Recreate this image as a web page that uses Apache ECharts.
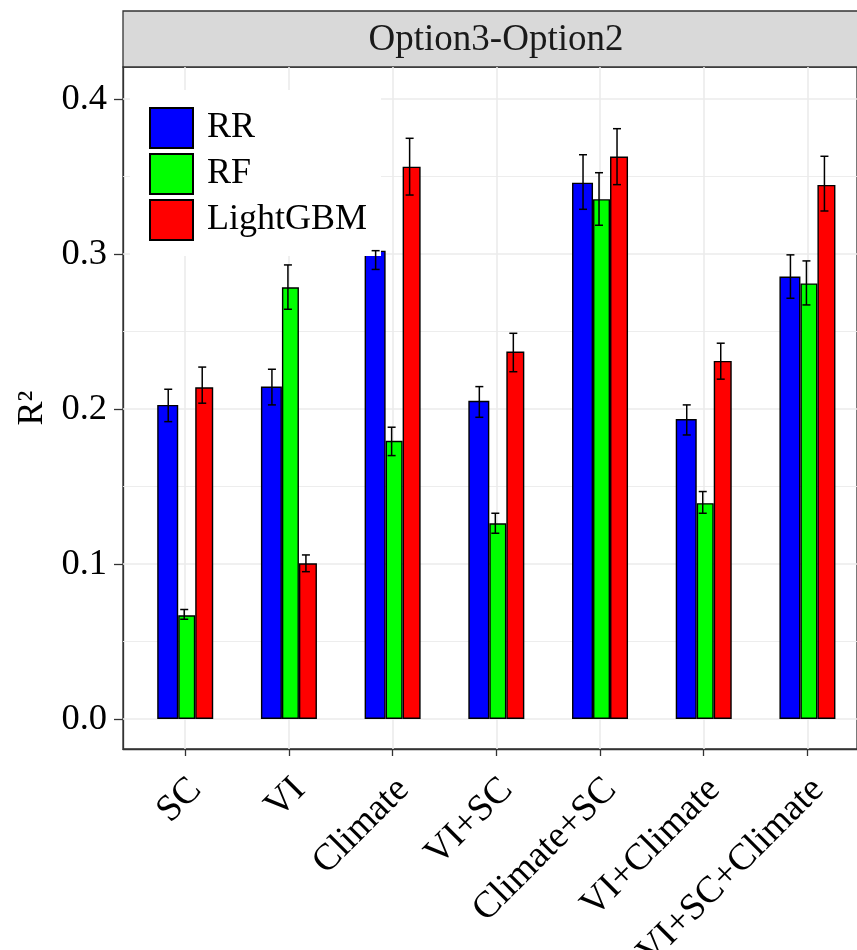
<!DOCTYPE html>
<html>
<head>
<meta charset="UTF-8">
<title>R2 by model</title>
<script src="https://cdn.jsdelivr.net/npm/echarts@6.0.0/dist/echarts.min.js"></script>
<style>
  body { margin: 0; background: #fff; }
  #main { width: 857px; height: 950px; }
</style>
</head>
<body>
<div id="main"></div>
<script type="text/javascript">
// data
var categories = ['SC', 'VI', 'Climate', 'VI+SC', 'Climate+SC', 'VI+Climate', 'VI+SC+Climate'];
var seriesNames = ['RR', 'RF', 'LightGBM'];

var rr   = [0.2026, 0.2144, 0.3021, 0.2052, 0.3460, 0.1935, 0.2854];
var rrLo = [0.1918, 0.2026, 0.2900, 0.1946, 0.3288, 0.1832, 0.2714];
var rrHi = [0.2127, 0.2256, 0.3021, 0.2144, 0.3640, 0.2026, 0.2994];

var rf   = [0.0669, 0.2785, 0.1794, 0.1262, 0.3353, 0.1392, 0.2810];
var rfLo = [0.0643, 0.2643, 0.1699, 0.1198, 0.3185, 0.1327, 0.2671];
var rfHi = [0.0706, 0.2929, 0.1882, 0.1327, 0.3524, 0.1467, 0.2955];

var lgb   = [0.2140, 0.1004, 0.3563, 0.2370, 0.3628, 0.2310, 0.3445];
var lgbLo = [0.2037, 0.0950, 0.3380, 0.2240, 0.3447, 0.2192, 0.3277];
var lgbHi = [0.2270, 0.1058, 0.3746, 0.2488, 0.3808, 0.2424, 0.3630];

var yTicks = [0, 0.1, 0.2, 0.3, 0.4];
var yMinor = [0.05, 0.15, 0.25, 0.35];

var FONT = 'Liberation Serif';
var myChart = echarts.init(document.getElementById('main'));

function pairs(vals) {
  return vals.map(function (v, i) { return [i + 1, v]; });
}
function errData(lo, hi) {
  return lo.map(function (v, i) { return [i + 1, v, hi[i]]; });
}
function errSeries(name, lo, hi, dx) {
  return {
    name: name,
    type: 'custom',
    z: 4,
    silent: true,
    data: errData(lo, hi),
    renderItem: function (params, api) {
      var top = api.coord([api.value(0), api.value(2)]);
      var bot = api.coord([api.value(0), api.value(1)]);
      var x = top[0] + dx, c = 4;
      var st = { stroke: '#000', lineWidth: 1.5 };
      return {
        type: 'group',
        children: [
          { type: 'line', shape: { x1: x, y1: top[1], x2: x, y2: bot[1] }, style: st },
          { type: 'line', shape: { x1: x - c, y1: top[1], x2: x + c, y2: top[1] }, style: st },
          { type: 'line', shape: { x1: x - c, y1: bot[1], x2: x + c, y2: bot[1] }, style: st }
        ]
      };
    }
  };
}
function bar(name, vals, color, w) {
  return {
    name: name,
    type: 'bar',
    z: 3,
    barWidth: w,
    barGap: '0%',
    data: pairs(vals),
    itemStyle: { color: color, borderColor: '#000', borderWidth: 1.4 }
  };
}

var gridLines = [];
yTicks.forEach(function (v) { gridLines.push({ yAxis: v, lineStyle: { width: 1.6 } }); });
yMinor.forEach(function (v) { gridLines.push({ yAxis: v, lineStyle: { width: 0.9 } }); });
categories.forEach(function (c, i) { gridLines.push({ xAxis: i + 1, lineStyle: { width: 1.6 } }); });

myChart.setOption({
  animation: false,
  grid: {
    left: 123, top: 67, bottom: 201, right: 0,
    containLabel: false, outerBoundsMode: 'none',
    show: true, borderColor: '#333', borderWidth: 1.3
  },
  graphic: [
    { type: 'rect', shape: { x: 123, y: 11, width: 760, height: 56 },
      style: { fill: '#d9d9d9', stroke: '#333', lineWidth: 1.3 } },
    { type: 'text', x: 496, y: 40,
      style: { text: 'Option3-Option2', font: '37px "' + FONT + '"', fill: '#1a1a1a',
               textAlign: 'center', textVerticalAlign: 'middle' } }
  ],
  legend: {
    data: seriesNames,
    orient: 'vertical',
    left: 130,
    top: 90,
    padding: [17, 14, 15, 19],
    backgroundColor: '#fff',
    icon: 'rect',
    itemWidth: 43,
    itemHeight: 40,
    itemGap: 4,
    textStyle: { fontFamily: FONT, fontSize: 36, color: '#000', padding: [0, 0, 0, 9] }
  },
  xAxis: {
    type: 'value',
    min: 0.4,
    max: 7.478,   // panel continues past the right edge of the picture
    splitLine: { show: false },
    axisLine: { show: true, onZero: false, lineStyle: { color: '#333', width: 1.3 } },
    axisTick: { show: true, customValues: [1, 2, 3, 4, 5, 6, 7], length: 7, lineStyle: { color: '#333', width: 1.3 } },
    axisLabel: {
      customValues: [1, 2, 3, 4, 5, 6, 7],
      formatter: function (v) { return categories[Math.round(v) - 1]; },
      rotate: 45,
      margin: 16,
      verticalAlign: 'top',
      padding: [2, 6, 0, 0],
      fontFamily: FONT, fontSize: 37.5, color: '#000'
    }
  },
  yAxis: {
    type: 'value',
    min: -0.0194,
    max: 0.4206,
    name: 'R²',
    nameLocation: 'middle',
    nameGap: 70,
    nameRotate: 90,
    nameTextStyle: { fontFamily: FONT, fontSize: 36, color: '#000' },
    splitLine: { show: false },
    axisLine: { show: true, lineStyle: { color: '#333', width: 1.3 } },
    axisTick: { show: true, customValues: yTicks, length: 9, lineStyle: { color: '#333', width: 1.3 } },
    axisLabel: {
      customValues: yTicks,
      formatter: function (v) { return v.toFixed(1); },
      margin: 16,
      fontFamily: FONT, fontSize: 36.5, color: '#000'
    }
  },
  series: [
    {
      name: 'grid',
      type: 'line',
      data: [],
      silent: true,
      markLine: {
        z: 1,
        silent: true,
        symbol: 'none',
        label: { show: false },
        lineStyle: { color: '#ebebeb', type: 'solid' },
        data: gridLines
      }
    },
    bar('RR', rr, '#0000ff', 21),
    bar('RF', rf, '#00ff00', 17),
    bar('LightGBM', lgb, '#ff0000', 18),
    errSeries('RR-err', rrLo, rrHi, -17),
    errSeries('RF-err', rfLo, rfHi, -1),
    errSeries('LightGBM-err', lgbLo, lgbHi, 17)
  ]
});
</script>
</body>
</html>
